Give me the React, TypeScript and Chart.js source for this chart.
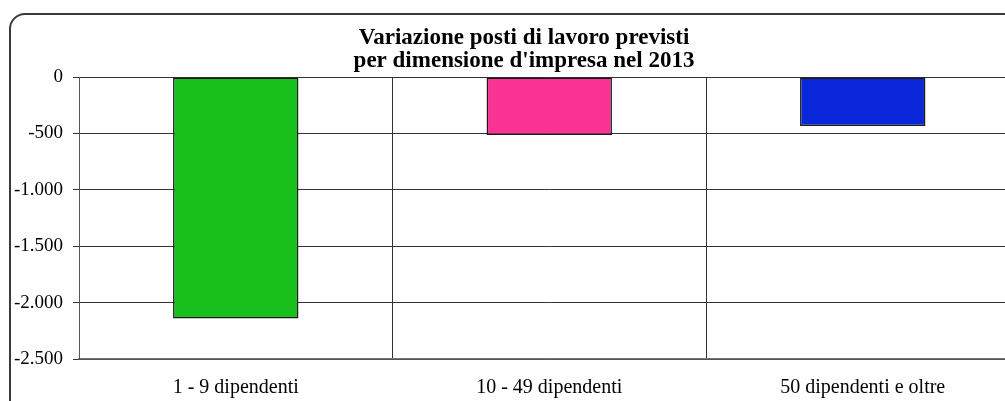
import React, { useEffect, useRef } from "react";
import { Chart, registerables } from "chart.js";

Chart.register(...registerables);

const categories = ["1 - 9 dipendenti", "10 - 49 dipendenti", "50 dipendenti e oltre"];
const values = [-2140, -515, -435];
const barColors = ["#17BF1B", "#F93394", "#0A28DA"];
const titleLines = ["Variazione posti di lavoro previsti", "per dimensione d'impresa nel 2013"];
const yMin = -2500;
const yMax = 0;
const yStep = 500;

const fmt = (v: number) => {
  const neg = v < 0;
  const s = Math.abs(Math.round(v)).toString().replace(/\B(?=(\d{3})+(?!\d))/g, ".");
  return (neg ? "-" : "") + s;
};

const FONT = "'Liberation Serif', 'Times New Roman', serif";

const titlePlugin = {
  id: "customTitle",
  afterDraw(chart: any) {
    const ctx = chart.ctx;
    ctx.save();
    ctx.fillStyle = "#000";
    ctx.font = `bold 23px ${FONT}`;
    ctx.textAlign = "center";
    ctx.textBaseline = "alphabetic";
    ctx.fillText(titleLines[0], 524, 43.5);
    ctx.fillText(titleLines[1], 524, 67);
    ctx.restore();
  },
};

export default function App() {
  const ref = useRef<HTMLCanvasElement>(null);
  useEffect(() => {
    if (!ref.current) return;
    const chart = new Chart(ref.current, {
      type: "bar",
      data: {
        labels: categories,
        datasets: [
          {
            data: values,
            backgroundColor: barColors,
            borderColor: "#1a1a1a",
            borderWidth: 1.5,
            borderSkipped: false,
            barPercentage: 0.4,
            categoryPercentage: 1,
          },
        ],
      },
      options: {
        responsive: false,
        animation: false,
        layout: { padding: { top: 77, right: 20.5, left: 0, bottom: 0 } },
        plugins: {
          legend: { display: false },
          title: { display: false },
          tooltip: { enabled: false },
        },
        scales: {
          x: {
            grid: { color: "#333", lineWidth: 1, drawTicks: false, offset: true },
            border: { color: "#777", width: 1.5 },
            ticks: { color: "#000", font: { family: FONT, size: 20 }, padding: 17 },
            afterFit: (s: any) => {
              s.height = 42;
            },
          },
          y: {
            min: yMin,
            max: yMax,
            grid: { color: "#333", lineWidth: 1, tickLength: 6 },
            border: { color: "#555", width: 1 },
            ticks: {
              stepSize: yStep,
              color: "#000",
              font: { family: FONT, size: 19 },
              padding: 10,
              callback: (v: any) => fmt(Number(v)),
            },
            afterFit: (s: any) => {
              s.width = 79;
            },
          },
        },
      },
      plugins: [titlePlugin],
    });
    return () => chart.destroy();
  }, []);

  return (
    <div
      style={{
        position: "fixed",
        left: 0,
        top: 0,
        width: 1005,
        height: 401,
        overflow: "hidden",
        background: "#fff",
      }}
    >
      <div
        style={{
          position: "absolute",
          left: 9,
          top: 13,
          width: 1200,
          height: 600,
          border: "2px solid #3a3a3a",
          borderRadius: 16,
          boxSizing: "border-box",
        }}
      />
      <canvas ref={ref} width={1040} height={401} style={{ position: "absolute", left: 0, top: 0 }} />
    </div>
  );
}
